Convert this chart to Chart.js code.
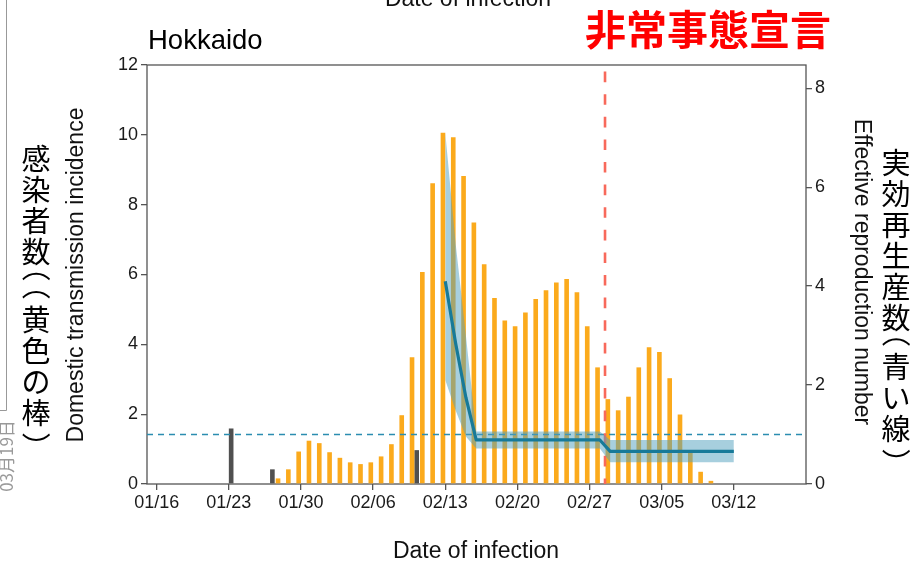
<!DOCTYPE html>
<html>
<head>
<meta charset="utf-8">
<script src="https://cdn.jsdelivr.net/npm/chart.js@4.4.1/dist/chart.umd.min.js"></script>
<style>
html, body { margin: 0; padding: 0; background: #fff; }
#incidence_chart { display: block; }
</style>
</head>
<body>
<canvas id="incidence_chart" width="917" height="562"></canvas>
<script>
// dates are MM/DD of 2020
var tickDates = ["01/16", "01/23", "01/30", "02/06", "02/13", "02/20", "02/27", "03/05", "03/12"];
var incidenceTicks = [0, 2, 4, 6, 8, 10, 12];
var rtTicks = [0, 2, 4, 6, 8];

// domestic cases, one bar per day starting 01/28
var domesticStart = "01/28";
var domestic = [0.16, 0.42, 0.93, 1.24, 1.17, 0.91, 0.75, 0.62, 0.57, 0.62, 0.79, 1.14, 1.97, 3.63, 6.07, 8.61, 10.06, 9.93, 8.82, 7.49, 6.29, 5.33, 4.68, 4.52, 4.91, 5.30, 5.55, 5.77, 5.87, 5.49, 4.52, 3.34, 2.43, 2.11, 2.50, 3.34, 3.92, 3.78, 3.03, 1.99, 0.90, 0.35, 0.09];

// imported cases
var importedDates = ["01/23", "01/27", "02/10"];
var imported = [1.59, 0.42, 0.97];

// effective reproduction number with its interval
var rtDates = ["02/13", "02/14", "02/15", "02/16", "02/28", "02/29", "03/12"];
var rt = [4.10, 2.85, 1.75, 0.89, 0.89, 0.66, 0.66];
var rtLower = [2.10, 1.49, 0.96, 0.72, 0.72, 0.44, 0.44];
var rtUpper = [7.10, 4.87, 3.00, 1.06, 1.06, 0.89, 0.89];
var rtThreshold = 1;

var emergencyDate = "02/28";

function dayOf(s) {
    var p = s.split("/");
    return Math.round((Date.UTC(2020, +p[0] - 1, +p[1]) - Date.UTC(2020, 0, 16)) / 864e5);
}
function toPoints(dates, vals) {
    return vals.map(function (v, i) { return { x: dayOf(dates[i]), y: v }; });
}
var emergencyDay = dayOf(emergencyDate) + 0.5; // announced during the day

var FONT = '"Liberation Sans", Arial, sans-serif';
var JP = '"Noto Sans CJK JP", sans-serif';
Chart.defaults.font.family = FONT;

// vertical CJK text: brackets are turned a quarter and take a shorter step
function tategaki(ctx, text, cx, top, size, step) {
    var y = top, half = step * 0.59;
    ctx.font = size + "px " + JP;
    ctx.textAlign = "center";
    ctx.textBaseline = "middle";
    Array.from(text).forEach(function (ch) {
        var open = ch === "（", close = ch === "）";
        var adv = open || close ? half : step;
        var cy = y + adv / 2;
        if (open || close) {
            ctx.save();
            ctx.translate(cx, cy);
            ctx.rotate(Math.PI / 2);
            ctx.fillText(ch, (open ? -0.33 : 0.33) * size, 0);
            ctx.restore();
        } else {
            ctx.fillText(ch, cx, cy);
        }
        y += adv;
    });
}

var frame = {
    id: "frame",
    beforeDatasetsDraw: function (chart) {
        var a = chart.chartArea, ctx = chart.ctx;
        ctx.save();
        ctx.strokeStyle = "#555";
        ctx.lineWidth = 1.3;
        ctx.strokeRect(a.left, a.top, a.right - a.left, a.bottom - a.top);
        ctx.restore();
    },
    // reference lines sit on the bars but under the Rt band
    afterDatasetDraw: function (chart, args) {
        if (args.index !== 0) return;
        var a = chart.chartArea, ctx = chart.ctx;
        var y1 = chart.scales.yR.getPixelForValue(rtThreshold);
        var xe = chart.scales.x.getPixelForValue(emergencyDay);
        ctx.save();
        ctx.lineWidth = 1.6;
        ctx.strokeStyle = "#2b8db0";
        ctx.setLineDash([6, 5]);
        ctx.beginPath(); ctx.moveTo(a.left, y1); ctx.lineTo(a.right, y1); ctx.stroke();
        ctx.lineWidth = 2.6;
        ctx.strokeStyle = "#f8695b";
        ctx.setLineDash([10.6, 12]);
        ctx.lineDashOffset = 16;
        ctx.beginPath(); ctx.moveTo(xe, a.top); ctx.lineTo(xe, a.bottom); ctx.stroke();
        ctx.restore();
    },
    afterDraw: function (chart) {
        var ctx = chart.ctx;
        ctx.save();
        ctx.fillStyle = "#000";
        ctx.textBaseline = "alphabetic";

        ctx.font = "27.5px " + FONT;
        ctx.textAlign = "left";
        ctx.fillText("Hokkaido", 148, 49);

        ctx.font = "23px " + FONT;
        ctx.textAlign = "center";
        ctx.fillStyle = "#111";
        ctx.fillText("Date of infection", 476, 558);
        ctx.fillText("Date of infection", 468, 6);

        ctx.save();
        ctx.translate(83, 275);
        ctx.rotate(-Math.PI / 2);
        ctx.fillText("Domestic transmission incidence", 0, 0);
        ctx.restore();

        ctx.save();
        ctx.translate(855, 272);
        ctx.rotate(Math.PI / 2);
        ctx.fillText("Effective reproduction number", 0, 0);
        ctx.restore();

        ctx.fillStyle = "#000";
        tategaki(ctx, "感染者数（（黄色の棒）", 36, 143.5, 29, 31);
        tategaki(ctx, "実効再生産数（青い線）", 896, 147, 29, 31);

        ctx.fillStyle = "#ff0000";
        ctx.font = "bold 41px " + JP;
        ctx.textAlign = "center";
        ctx.textBaseline = "middle";
        ctx.fillText("非常事態宣言", 708, 29);

        // margin of the page the figure was pasted on
        ctx.strokeStyle = "#999";
        ctx.lineWidth = 1;
        ctx.beginPath(); ctx.moveTo(6.5, 0); ctx.lineTo(6.5, 410.5); ctx.lineTo(0, 410.5); ctx.stroke();
        ctx.fillStyle = "#999";
        ctx.font = "17px " + JP;
        ctx.textBaseline = "alphabetic";
        ctx.translate(13, 456);
        ctx.rotate(-Math.PI / 2);
        ctx.fillText("03月19日", 0, 0);
        ctx.restore();
    }
};

var tickGrid = { offset: false, drawOnChartArea: false, drawTicks: true, tickLength: 6, color: "#555", lineWidth: 1.3 };

var ctx = document.getElementById("incidence_chart");
var myChart = new Chart(ctx, {
    type: "bar",
    data: {
        datasets: [
            {
                label: "Domestic", data: domestic.map(function (v, i) { return { x: dayOf(domesticStart) + i, y: v }; }),
                backgroundColor: "#fbaa1c", borderWidth: 0, yAxisID: "y", order: 3, categoryPercentage: 0.9, barPercentage: 1
            },
            {
                label: "Imported", data: toPoints(importedDates, imported),
                backgroundColor: "#505050", borderWidth: 0, yAxisID: "y", order: 3, categoryPercentage: 0.9, barPercentage: 1
            },
            {
                type: "line", label: "Rt lower", data: toPoints(rtDates, rtLower), yAxisID: "yR",
                borderWidth: 0, pointRadius: 0, fill: false, order: 2
            },
            {
                type: "line", label: "Rt upper", data: toPoints(rtDates, rtUpper), yAxisID: "yR",
                borderWidth: 0, pointRadius: 0, fill: "-1", backgroundColor: "rgba(80,160,190,0.5)", order: 2
            },
            {
                type: "line", label: "Rt", data: toPoints(rtDates, rt), yAxisID: "yR",
                borderColor: "#177a99", borderWidth: 3.2, pointRadius: 0, fill: false, borderJoinStyle: "round", order: 1
            }
        ]
    },
    options: {
        responsive: false,
        animation: false,
        layout: { padding: { top: 65, left: 0, right: 0, bottom: 0 } },
        plugins: { legend: { display: false }, tooltip: { enabled: false } },
        scales: {
            x: {
                type: "linear", min: -0.94, max: 63, offset: false,
                afterBuildTicks: function (s) { s.ticks = tickDates.map(function (d) { return { value: dayOf(d) }; }); },
                afterFit: function (s) { s.height = 78; },
                grid: tickGrid,
                border: { display: false },
                ticks: { callback: function (v, i) { return tickDates[i]; }, font: { size: 18 }, color: "#1a1a1a", padding: 2, maxRotation: 0, autoSkip: false }
            },
            y: {
                position: "left", min: 0, max: 12,
                afterBuildTicks: function (s) { s.ticks = incidenceTicks.map(function (v) { return { value: v }; }); },
                afterFit: function (s) { s.width = 147; },
                grid: tickGrid,
                border: { display: false },
                ticks: { font: { size: 18 }, color: "#1a1a1a", padding: 3 }
            },
            yR: {
                position: "right", min: 0, max: 8.47,
                afterBuildTicks: function (s) { s.ticks = rtTicks.map(function (v) { return { value: v }; }); },
                afterFit: function (s) { s.width = 111; },
                grid: tickGrid,
                border: { display: false },
                ticks: { font: { size: 18 }, color: "#1a1a1a", padding: 3 }
            }
        }
    },
    plugins: [frame]
});
</script>
</body>
</html>
